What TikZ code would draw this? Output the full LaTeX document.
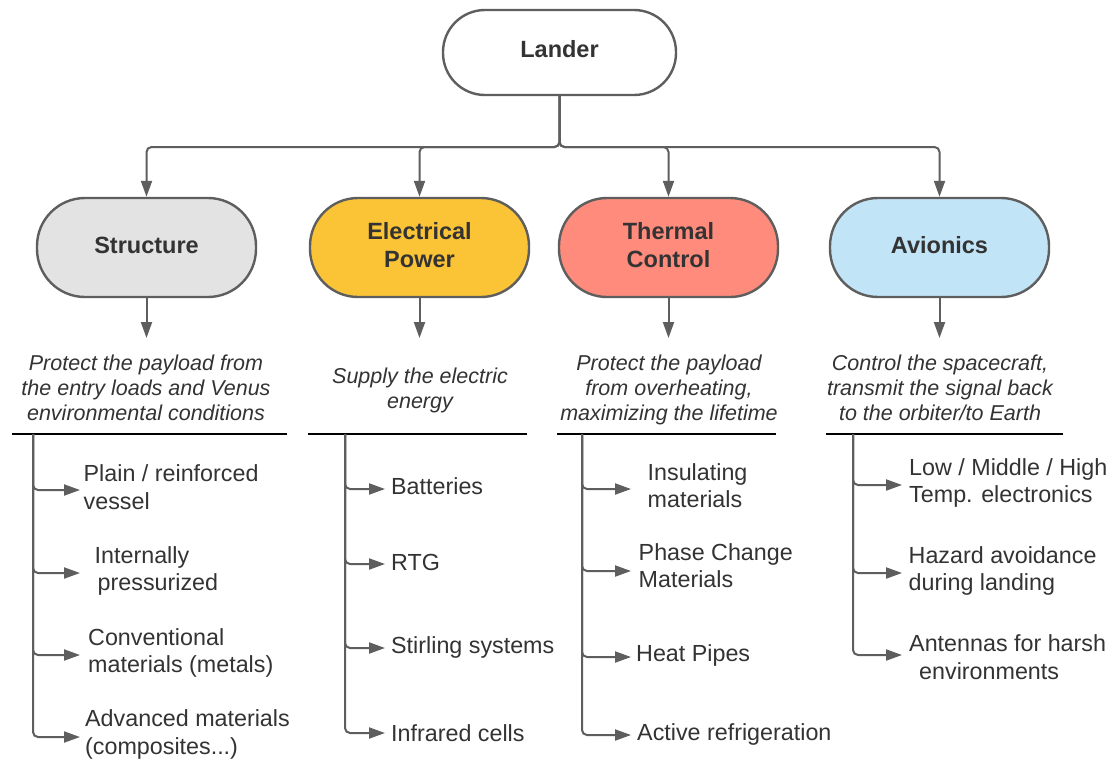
\documentclass[tikz,border=0pt]{standalone}
\usepackage{fontspec}
\setmainfont{Liberation Sans}
\usetikzlibrary{arrows.meta}
\definecolor{edge}{HTML}{5E5E5E}
\definecolor{txt}{HTML}{333333}
\definecolor{grayfill}{HTML}{E3E3E3}
\definecolor{yellowfill}{HTML}{FBC436}
\definecolor{redfill}{HTML}{FF8B7D}
\definecolor{bluefill}{HTML}{C2E4F7}
\begin{document}
\begin{tikzpicture}[x=1pt,y=-1pt,
  box/.style={draw=edge, line width=2.4pt, rounded corners=48pt,
    minimum width=219pt, minimum height=99pt, inner sep=0pt,
    font=\fontsize{23.5}{28.4}\selectfont\bfseries, text=txt, align=center,
    text depth=5pt},
  conn/.style={draw=edge, line width=2pt, -{Triangle[length=16pt,width=11pt]}},
  sep/.style={draw=black, line width=1.4pt},
  desc/.style={font=\fontsize{21.5}{25}\selectfont\itshape, text=txt,
    align=center, anchor=base, inner sep=0pt},
  item/.style={font=\fontsize{23.3}{27.6}\selectfont, text=txt,
    align=left, anchor=base west, inner sep=0pt}]
\fill[white] (0,0) rectangle (1115,764);
\useasboundingbox (0,0) rectangle (1115,764);

% top node and the four subsystems
\node[box, fill=white, minimum width=233pt, minimum height=85pt, rounded corners=42pt, text depth=7.4pt] (lander) at (559.5,52.5) {Lander};
\node[box, fill=grayfill]   (structure) at (146.5,247.5) {Structure};
\node[box, fill=yellowfill] (power)     at (419.5,247.5) {Electrical\\Power};
\node[box, fill=redfill]    (thermal)   at (668.5,247.5) {Thermal\\Control};
\node[box, fill=bluefill]   (avionics)  at (939.5,247.5) {Avionics};

% tree from the lander to the subsystems
\coordinate (split) at (559.5,147);
\foreach \n in {structure,power,thermal,avionics}
  \draw[conn] (lander.south) [rounded corners=5pt] -- (split) -| (\n.north);

% arrows to the descriptions
\coordinate (structure-tip) at (146.5,338);
\coordinate (power-tip)     at (419.5,338);
\coordinate (thermal-tip)   at (668.5,338);
\coordinate (avionics-tip)  at (939.5,338);
\foreach \n in {structure,power,thermal,avionics}
  \draw[conn] (\n.south) -- (\n-tip);

% descriptions (placed by the baseline of their last line)
\node[desc] (structure-desc) at (146,420) {Protect the payload from\\the entry loads and Venus\\environmental conditions};
\node[desc] (power-desc) at (420,408.3) {Supply the electric\\energy};
\node[desc] (thermal-desc) at (669,420) {Protect the payload\\from overheating,\\maximizing the lifetime};
\node[desc] (avionics-desc) at (940,420) {Control the spacecraft,\\transmit the signal back\\to the orbiter/to Earth};

% separators
\draw[sep] (12,434) -- (287,434);
\draw[sep] (308,434) -- (527,434);
\draw[sep] (557,434) -- (776,434);
\draw[sep] (826,434) -- (1063,434);

% Structure items (placed by the baseline of their last line)
\coordinate (sv) at (33,434);
\coordinate (s1) at (80,490);
\coordinate (s2) at (80,573);
\coordinate (s3) at (80,655);
\coordinate (s4) at (80,737);
\foreach \t in {s1,s2,s3,s4}
  \draw[conn] (sv) [rounded corners=5pt] |- (\t);
\node[item] (s1t) at (83.5,509.3) {Plain / reinforced\\vessel};
\node[item] (s2t) at (94.5,590.9) {Internally\\\hspace*{3pt}pressurized};
\node[item] (s3t) at (88,672.6) {Conventional\\materials (metals)};
\node[item] (s4t) at (85,754.3) {Advanced materials\\(composites...)};

% Electrical Power items
\coordinate (pv) at (345,434);
\coordinate (p1) at (385,489);
\coordinate (p2) at (385,564);
\coordinate (p3) at (385,648);
\coordinate (p4) at (385,733);
\foreach \t in {p1,p2,p3,p4}
  \draw[conn] (pv) [rounded corners=5pt] |- (\t);
\node[item] (p1t) at (391,494) {Batteries};
\node[item] (p2t) at (391,570.7) {RTG};
\node[item] (p3t) at (391,653) {Stirling systems};
\node[item] (p4t) at (391,741.7) {Infrared cells};

% Thermal Control items
\coordinate (tv) at (582,434);
\coordinate (t1) at (631,489);
\coordinate (t2) at (631,571);
\coordinate (t3) at (631,657);
\coordinate (t4) at (631,735);
\foreach \t in {t1,t2,t3,t4}
  \draw[conn] (tv) [rounded corners=5pt] |- (\t);
\node[item] (t1t) at (647.5,507.6) {Insulating\\materials};
\node[item] (t2t) at (638.5,587.6) {Phase Change\\Materials};
\node[item] (t3t) at (636,661.7) {Heat Pipes};
\node[item] (t4t) at (637,740) {Active refrigeration};

% Avionics items
\coordinate (av) at (853,434);
\coordinate (a1) at (902,485);
\coordinate (a2) at (902,573);
\coordinate (a3) at (902,655);
\foreach \t in {a1,a2,a3}
  \draw[conn] (av) [rounded corners=5pt] |- (\t);
\node[item] (a1t) at (909,502.6) {Low / Middle / High\\Temp. electronics};
\node[item] (a2t) at (908.5,590.9) {Hazard avoidance\\during landing};
\node[item] (a3t) at (909,679.3) {Antennas for harsh\\\hspace*{10pt}environments};
\end{tikzpicture}
\end{document}
